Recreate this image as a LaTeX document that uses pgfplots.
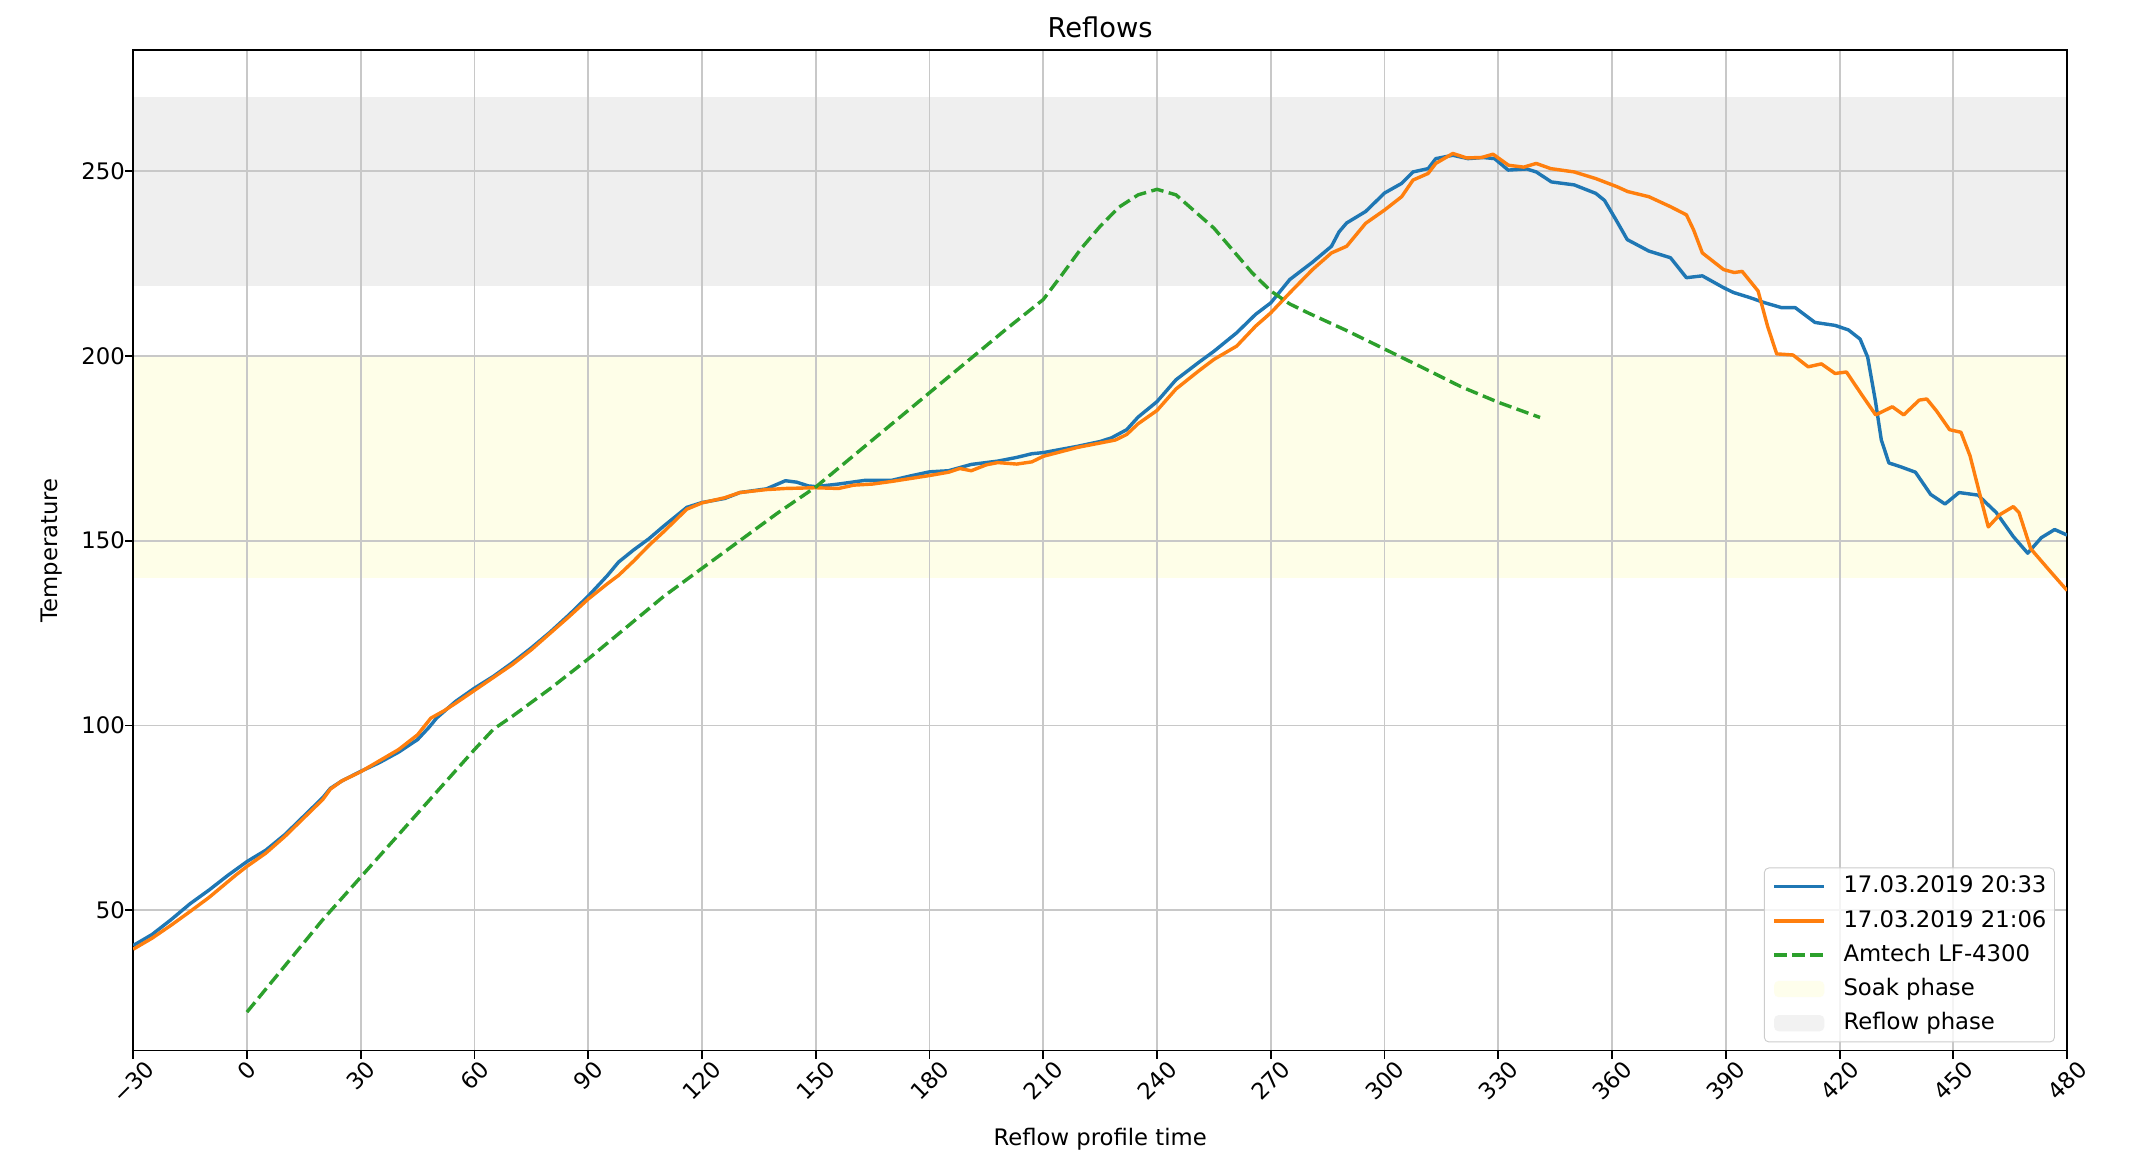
\documentclass[border=0pt]{standalone}
\usepackage{fontspec}
\setmainfont{DejaVu Sans}
\usepackage{graphicx}
\usepackage{pgfplots}
\pgfplotsset{compat=1.18}
\definecolor{tabblue}{HTML}{1F77B4}
\definecolor{taborange}{HTML}{FF7F0E}
\definecolor{tabgreen}{HTML}{2CA02C}
\definecolor{soakc}{RGB}{254,254,232}
\definecolor{reflowc}{RGB}{239,239,239}
\definecolor{gridc}{RGB}{200,200,200}
\begin{document}
\begin{tikzpicture}
\begin{axis}[
  at={(0,0)}, anchor=south west,
  scale only axis, width=29.883cm, height=15.456cm,
  set layers,
  xmin=-30, xmax=480, ymin=12.1, ymax=282.6,
  xtick={-30,0,30,60,90,120,150,180,210,240,270,300,330,360,390,420,450,480},
  xticklabels={\rotatebox{45}{−30},\rotatebox{45}{0},\rotatebox{45}{30},\rotatebox{45}{60},\rotatebox{45}{90},\rotatebox{45}{120},\rotatebox{45}{150},\rotatebox{45}{180},\rotatebox{45}{210},\rotatebox{45}{240},\rotatebox{45}{270},\rotatebox{45}{300},\rotatebox{45}{330},\rotatebox{45}{360},\rotatebox{45}{390},\rotatebox{45}{420},\rotatebox{45}{450},\rotatebox{45}{480}},
  ytick={50,100,150,200,250},
  /pgf/number format/assume math mode=true,
  tick label style={font=\fontsize{10}{12}\selectfont},
  xticklabel style={anchor=north, inner sep=0pt},
  yticklabel style={anchor=east, inner sep=0pt},
  tick align=outside, tick pos=left,
  major tick length=3.5pt,
  every tick/.style={black, line width=0.8pt},
  axis line style={line width=0.8pt, black},
  grid=major,
  major grid style={gridc, line width=0.8pt},
  title={Reflows},
  every axis title/.style={at={(axis description cs:0.5,1.0231)}, anchor=center, font=\fontsize{12}{14}\selectfont},
  xlabel={Reflow profile time},
  every axis x label/.style={at={(axis description cs:0.5,-0.0883)}, anchor=center, font=\fontsize{10}{12}\selectfont},
  ylabel={Temperature},
  every axis y label/.style={at={(axis description cs:-0.04216,0.5)}, rotate=90, anchor=center, font=\fontsize{10}{12}\selectfont},
  legend cell align=left,
  legend image code/.code={\draw[#1] (0cm,0cm) -- (0.777cm,0cm);},
  legend style={at={(axis description cs:0.99368,0.00815)}, anchor=south east,
    draw={rgb,255:red,204;green,204;blue,204}, rounded corners=2pt, fill=white, fill opacity=0.8, text opacity=1,
    inner sep=3.5pt, row sep=5.5pt, column sep=0.27cm,
    font=\fontsize{10}{12}\selectfont,
    nodes={inner sep=0pt, text height=7.5pt, text depth=2pt}},
]
\addplot[tabblue, line width=1.5pt, line join=round] coordinates {
(-30,40.5) (-25,43.5) (-20,47.5) (-15,51.8) (-10,55.5) (-5,59.5) (0,63.2) (5,66.3) (10,70.5) (15,75.5) (20,80.5) (22,83) (25,85) (30,87.6) (35,90) (40,92.8) (45,96.2) (48,99.5) (50,102) (55,106.5) (60,110.1) (65,113.3) (70,117) (75,121) (80,125.3) (85,130) (90,135) (95,140.5) (98,144.2) (102,147.5) (106,150.5) (110,154) (116,159) (120,160.3) (126,161.4) (130,163) (137,164) (142,166.2) (145,165.8) (148,164.8) (150,164.6) (156,165.3) (163,166.3) (170,166.3) (175,167.5) (180,168.6) (185,168.9) (191,170.6) (198,171.5) (203,172.5) (207,173.5) (210,173.8) (219,175.5) (225,176.8) (228,177.8) (232,180) (235,183.4) (240,187.6) (245,193.5) (251,198.2) (255,201.2) (261,206.2) (266,211.2) (270,214.3) (275,220.6) (281,225.3) (286,229.6) (288,233.5) (290,235.9) (295,239) (300,244) (304.5,246.6) (307.5,249.7) (311.5,250.6) (313.5,253.3) (318,254.2) (322,253.3) (326,253.6) (329,253.3) (332.6,250.2) (337.5,250.5) (340,249.7) (344,247) (350,246.2) (355.7,243.9) (358,242) (361,236.8) (364,231.4) (369.7,228.3) (375.4,226.5) (379.6,221.1) (383.8,221.6) (389.4,218.4) (392,217.1) (396.4,215.7) (400,214.4) (404.7,213) (408.3,213) (413.5,209) (418.8,208.2) (422.3,207) (425.4,204.5) (427.4,199.6) (429.4,188) (431,177.2) (433,171) (436,170) (440,168.5) (444,162.5) (447.8,159.9) (451.5,163) (456.5,162.3) (461.3,157.6) (465.8,151.1) (469.6,146.6) (473.2,150.8) (476.7,153) (480,151.5)
};
\addlegendentry{17.03.2019 20:33}
\addplot[taborange, line width=1.5pt, line join=round] coordinates {
(-30,39.5) (-25,42.5) (-20,46) (-15,49.7) (-10,53.5) (-6.5,56.5) (-3,59.5) (0,61.9) (5,65.5) (10,70) (15,75) (20,80) (22,82.8) (25,85) (30,87.5) (35,90.5) (40,93.5) (45,97.5) (48.5,102) (52,104) (55,106) (60,109.5) (65,113) (70,116.5) (75,120.5) (80,125) (85,129.5) (90,134.2) (95,138.3) (98,140.6) (102,144.5) (106,148.7) (110,152.5) (116,158.5) (120,160.2) (126,161.6) (130,163) (137,163.8) (142,164.1) (150,164.3) (156,164.1) (160,165) (165,165.3) (170,166) (180,167.6) (185,168.5) (188,169.5) (191,168.9) (195,170.5) (198,171.1) (203,170.7) (207,171.3) (210,172.8) (219,175.2) (226,176.6) (229,177.2) (232,178.7) (235,181.6) (240,185.2) (245,191) (251,195.9) (255,199) (261,202.6) (266,208) (270,211.6) (275,217) (281,223.3) (286,227.8) (290,229.6) (295,235.8) (300,239.4) (304.5,243) (307.5,247.5) (311.5,249.3) (313.5,252) (318,254.7) (321.6,253.5) (325.6,253.6) (328.6,254.5) (332.7,251.5) (336.7,251) (340,252) (343.8,250.6) (350,249.7) (355.7,247.9) (361.3,245.7) (364.1,244.4) (369.7,243) (375.4,240.3) (379.6,238.1) (381.5,234) (383.8,227.8) (389.4,223.3) (392.2,222.5) (394.3,222.8) (398.5,217.5) (401,208) (403.4,200.5) (407.7,200.2) (411.7,197) (415.2,197.8) (418.8,195.2) (421.8,195.6) (425.8,189.5) (429.5,184) (433.9,186.2) (436.9,184) (441,188) (443,188.3) (445.6,185) (449,180) (452,179.3) (454.4,172.9) (457.1,162) (459.2,153.7) (462.2,157) (465.8,159.2) (467.3,157.6) (470.4,147.8) (475.7,141.5) (480,136.5)
};
\addlegendentry{17.03.2019 21:06}
\addplot[tabgreen, line width=1.5pt, dash pattern=on 5.55pt off 2.4pt, line join=round] coordinates {
(0,22.5) (10,35) (20,47.5) (30,59) (40,70.5) (50,82) (60,93.5) (65,99) (70,102.5) (80,110) (90,118) (100,126.5) (110,135) (120,142.5) (130,150) (140,157.5) (150,164.5) (160,173) (170,181.5) (180,190) (190,198.5) (200,207) (210,215.2) (215,222) (220,229) (225,235) (230,240.2) (235,243.5) (240,245) (245,243.5) (250,239) (255,234.5) (260,228.5) (265,222.5) (270,217.5) (275,214) (280,211.5) (290,206.8) (300,201.8) (310,196.8) (320,191.7) (330,187.4) (341,183.3)
};
\addlegendentry{Amtech LF-4300}
\addplot[on layer=axis background, draw=none, fill=soakc,
  legend image code/.code={\fill[soakc] (0cm,-0.125cm) rectangle (0.777cm,0.125cm);}]
  coordinates {(-30,140) (480,140) (480,200) (-30,200)} -- cycle;
\addlegendentry{Soak phase}
\addplot[on layer=axis background, draw=none, fill=reflowc,
  legend image code/.code={\fill[reflowc] (0cm,-0.125cm) rectangle (0.777cm,0.125cm);}]
  coordinates {(-30,218.8) (480,218.8) (480,270) (-30,270)} -- cycle;
\addlegendentry{Reflow phase}
\end{axis}
\pgfresetboundingbox
\path[use as bounding box] (-2.058,-1.638) rectangle (30.87,16.233);
\end{tikzpicture}
\end{document}
